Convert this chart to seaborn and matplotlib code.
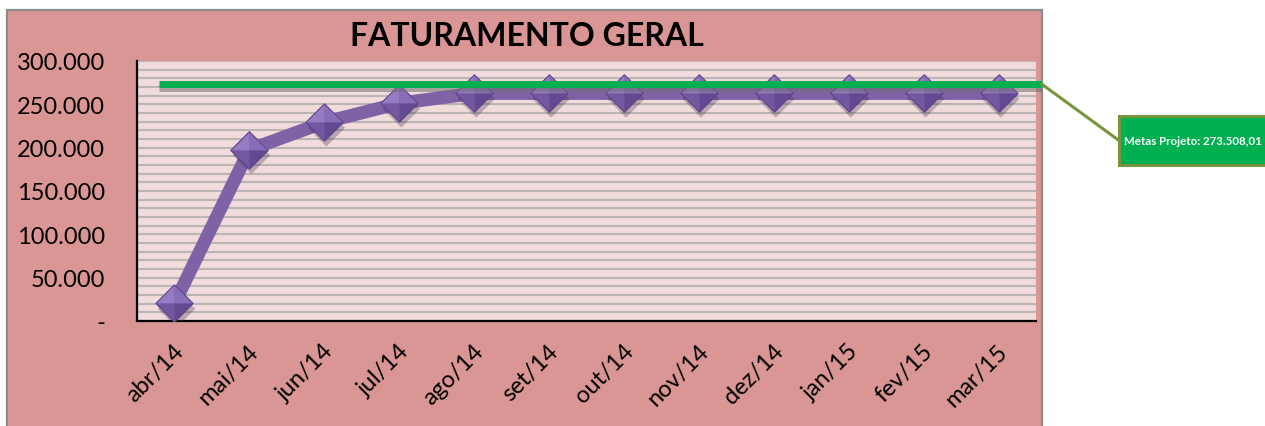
import numpy as np
import pandas as pd
import matplotlib
matplotlib.use("Agg")
import matplotlib.pyplot as plt
import seaborn as sns
from matplotlib.patches import Rectangle, ConnectionPatch
from matplotlib.lines import Line2D
from matplotlib.ticker import MultipleLocator, FixedLocator, FuncFormatter
from matplotlib.transforms import ScaledTranslation, blended_transform_factory
import matplotlib.patheffects as pe

# ---- data -------------------------------------------------------------
meses = ["abr/14", "mai/14", "jun/14", "jul/14", "ago/14", "set/14",
         "out/14", "nov/14", "dez/14", "jan/15", "fev/15", "mar/15"]
faturamento = [20400, 197600, 229300, 251200, 262700, 262700,
               262700, 262700, 262700, 262700, 262700, 262700]
meta_projeto = 273508.01
y_ticks = [0, 50000, 100000, 150000, 200000, 250000, 300000]
titulo = "FATURAMENTO GERAL"
rotulo_meta = "Metas Projeto"

# ---- style ------------------------------------------------------------
sns.set_theme(style="white")
plt.rcParams["font.family"] = ["Lato", "DejaVu Sans"]

W, H = 1265, 427
fig = plt.figure(figsize=(W / 100, H / 100), dpi=100)
fig.patch.set_facecolor("white")


def fx(px):
    return px / W


def fy(py):
    return 1 - py / H


# chart frame (pink background with grey border), kept behind the axes
frame_left, frame_right, frame_top = 7.5, 1041.5, 10.5
fig.patches.append(Rectangle((fx(frame_left), -0.05), fx(frame_right) - fx(frame_left),
                             fy(frame_top) + 0.05, transform=fig.transFigure,
                             facecolor="#d99694", edgecolor="#8c8c8c", linewidth=1.6,
                             zorder=-5))

ax = fig.add_axes([fx(137), 1 - 322 / H, fx(1036) - fx(137), 260 / H])
ax.set_zorder(1)
ax.set_facecolor("#f2dcdb")

df = pd.DataFrame({"mes": meses, "pos": np.arange(len(meses)), "valor": faturamento})

# striped plot area
ax.yaxis.set_major_locator(FixedLocator(y_ticks))
ax.yaxis.set_minor_locator(MultipleLocator(10000))
ax.grid(axis="y", which="both", color="#b8b5b4", linewidth=1.5)
ax.set_axisbelow(True)

# main series
sns.lineplot(data=df, x="pos", y="valor", ax=ax, color="#7f62a6", linewidth=9.5,
             solid_capstyle="butt", solid_joinstyle="round", zorder=3, legend=False)

# bevelled diamond markers
ms = 27
diamond = [(-1, 0), (0, 1), (1, 0), (0, -1), (-1, 0)]
ax.plot(df["pos"], df["valor"], linestyle="none", marker=diamond, markersize=ms,
        markerfacecolor="#7a5ea6", markeredgecolor="none", zorder=4,
        path_effects=[pe.SimplePatchShadow(offset=(1.5, -4), shadow_rgbFace="#3a2a4a",
                                           alpha=0.3), pe.Normal()])
facets = [
    ([(-1, 0), (0, 1), (0, 0), (-1, 0)], "#967cc4"),
    ([(0, 1), (1, 0), (0, 0), (0, 1)], "#886db8"),
    ([(-1, 0), (0, 0), (0, -1), (-1, 0)], "#7357a1"),
    ([(0, 0), (1, 0), (0, -1), (0, 0)], "#634892"),
]
for verts, col in facets:
    ax.plot(df["pos"], df["valor"], linestyle="none", marker=verts, markersize=ms,
            markerfacecolor=col, markeredgecolor="none", zorder=5)
ax.plot(df["pos"], df["valor"], linestyle="none", marker=diamond, markersize=ms,
        markerfacecolor="none", markeredgecolor="#5c4384", markeredgewidth=0.7, zorder=6)

# target line, running out to the chart frame
meta_tr = blended_transform_factory(fig.transFigure, ax.transData)
ax.add_line(Line2D([fx(159), fx(frame_right)], [meta_projeto, meta_projeto],
                   transform=meta_tr, color="#00b050", linewidth=5, clip_on=False,
                   solid_capstyle="butt", zorder=7,
                   path_effects=[pe.SimpleLineShadow(offset=(0, -3), shadow_color="#6f6f6f",
                                                     alpha=0.55), pe.Normal()]))

# axes
ax.set_xlim(-0.5, len(meses) - 0.5)
ax.set_ylim(y_ticks[0], y_ticks[-1])
ax.set_xlabel("")
ax.set_ylabel("")
for side in ("top", "right"):
    ax.spines[side].set_visible(False)
for side in ("left", "bottom"):
    ax.spines[side].set_color("black")
    ax.spines[side].set_linewidth(1.6)


def fmt_milhar(v, _pos=None):
    if v == 0:
        return "-"
    return f"{v:,.0f}".replace(",", ".")


ax.yaxis.set_major_formatter(FuncFormatter(fmt_milhar))
ax.tick_params(axis="y", which="both", length=0, pad=23, labelsize=17, labelcolor="black")
ax.set_xticks(df["pos"])
ax.set_xticklabels(meses, rotation=45, ha="right", va="center", rotation_mode="anchor")
ax.tick_params(axis="x", length=0, pad=19, labelsize=17, labelcolor="black")
shift = ScaledTranslation(6 / 100, 0, fig.dpi_scale_trans)
for lab in ax.get_xticklabels():
    lab.set_transform(lab.get_transform() + shift)

# title
fig.text(fx(527), fy(37), titulo, ha="center", va="center", fontsize=23,
         fontweight="bold", color="black")

# target callout
fig.patches.append(Rectangle((fx(1119), fy(166)), fx(1275) - fx(1119), fy(117) - fy(166),
                             transform=fig.transFigure, facecolor="#00b050",
                             edgecolor="#77933c", linewidth=2.2, zorder=5))
valor_txt = f"{meta_projeto:,.2f}".replace(",", "X").replace(".", ",").replace("X", ".")
fig.text(fx(1193), fy(141.5), f"{rotulo_meta}: {valor_txt}", ha="center", va="center",
         fontsize=8.3, fontweight="bold", color="white", zorder=6)
con = ConnectionPatch(xyA=(fx(frame_right), meta_projeto), coordsA=meta_tr,
                      xyB=(fx(1119), fy(141.5)), coordsB=fig.transFigure,
                      color="#77933c", linewidth=2.2, zorder=4)
fig.add_artist(con)

fig.savefig("out.png", dpi=100, facecolor=fig.get_facecolor())
